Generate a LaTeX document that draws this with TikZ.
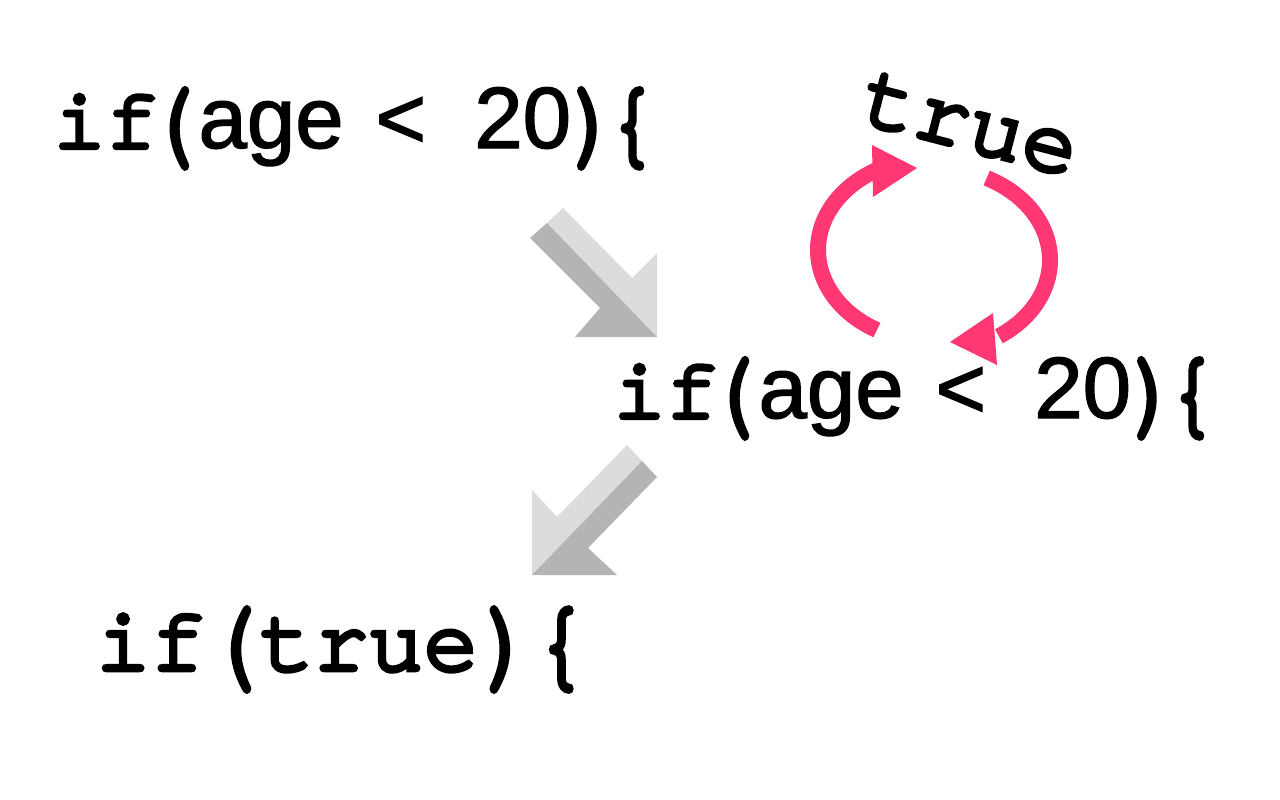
\documentclass[tikz,border=0pt]{standalone}
\usepackage{fontspec}
\newfontfamily\curfont{texgyrecursor-regular.otf}[FakeBold=5]
\newfontfamily\sansfont{Liberation Sans}[FakeBold=1.6]
\definecolor{pinkc}{HTML}{FF3873}
\definecolor{lightg}{HTML}{DCDCDC}
\definecolor{darkg}{HTML}{B4B4B4}
\newcommand{\tallp}[1]{\raisebox{-0.075em}{\scalebox{1.05}[1.25]{#1}}}
\newcommand{\ageline}{\makebox[91.7pt][l]{\curfont if}\makebox[53.5pt][l]{\curfont\tallp{(}}\makebox[177pt][l]{\sansfont age}\makebox[98.9pt][l]{\sansfont <}\makebox[91.6pt][l]{\sansfont 20}\makebox[39pt][l]{\curfont\tallp{)}}{\curfont\tallp{\{}}}
\begin{document}
\begin{tikzpicture}[x=1pt,y=1pt,
  codeline/.style={inner sep=0pt, outer sep=0pt, anchor=base west, font=\fontsize{87pt}{87pt}\selectfont},
  monoline/.style={inner sep=0pt, outer sep=0pt, anchor=base west, font=\fontsize{91pt}{91pt}\selectfont\curfont},
  truelabel/.style={inner sep=0pt, outer sep=0pt, anchor=base west, rotate=-14.5, font=\fontsize{92pt}{92pt}\selectfont\curfont},
  pinkarc/.style={draw=pinkc, line width=16pt, line cap=butt}]
\useasboundingbox (0,0) rectangle (1280,-800);
% code lines
\node[codeline] (lineA) at (53.3,-148) {\ageline};
\node[codeline] (lineB) at (613.3,-418) {\ageline};
\node[monoline] (lineC) at (95.8,-670) {if\makebox[0.6em][l]{\tallp{(}}true\makebox[0.6em][l]{\tallp{)}}\tallp{\{}};
\node[truelabel] (lbl) at (857,-121) {true};
% gray arrow 1 (down-right)
\fill[lightg] (547,-223) -- (563,-208) -- (632,-278) -- (657,-253) -- (657,-337) -- cycle;
\fill[darkg] (547,-223) -- (530,-238) -- (600,-308) -- (575,-337) -- (657,-337) -- cycle;
% gray arrow 2 (down-left)
\fill[lightg] (642,-461) -- (627,-445) -- (557,-517) -- (532,-490) -- (532,-575) -- cycle;
\fill[darkg] (642,-461) -- (657,-477) -- (588,-548) -- (617,-575) -- (532,-575) -- cycle;
% pink cycle arrows
\draw[pinkarc] (934,-250) ++(240.5:116 and 92) arc[start angle=240.5, end angle=119, x radius=116, y radius=92];
\fill[pinkc] (872,-145) -- (917,-168) -- (873,-197) -- cycle;
\draw[pinkarc] (934,-260) ++(63:116 and 92) arc[start angle=63, end angle=-56, x radius=116, y radius=92];
\fill[pinkc] (993,-313) -- (950,-342) -- (997,-365) -- cycle;
\end{tikzpicture}
\end{document}
